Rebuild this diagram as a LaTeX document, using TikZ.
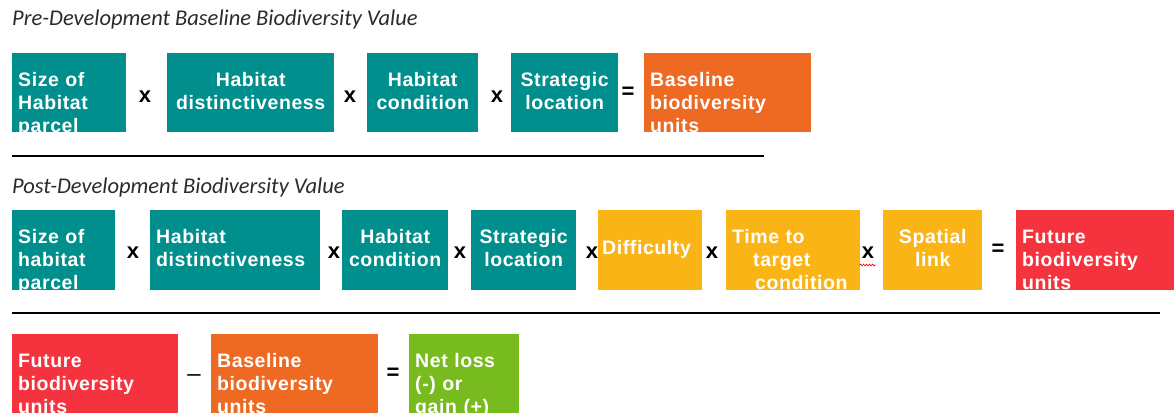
\documentclass[tikz,border=0pt]{standalone}
\usepackage{fontspec}
\usetikzlibrary{decorations.pathmorphing}
\newfontfamily\boxfont{Liberation Sans}[LetterSpace=3]
\newfontfamily\opfont{Liberation Sans}
\newfontfamily\titlefont{Carlito}

\definecolor{bteal}{HTML}{008F8C}
\definecolor{borange}{HTML}{EE6A22}
\definecolor{byellow}{HTML}{FBB415}
\definecolor{bred}{HTML}{F5333F}
\definecolor{bgreen}{HTML}{78BB1E}
\definecolor{titlegray}{HTML}{2B2B2B}

\tikzset{
  box/.style={anchor=north west, inner xsep=6pt, inner ysep=0pt, text=white,
    font=\boxfont\bfseries\fontsize{19.5}{23}\selectfont,
    text height=33pt, text depth=46pt, align=left},
  op/.style={font=\opfont\bfseries\fontsize{22}{24}\selectfont, inner sep=0pt},
  heading/.style={anchor=west, inner sep=0pt, text=titlegray,
    font=\titlefont\itshape\fontsize{22.5}{26}\selectfont},
  rule/.style={line width=2.5pt},
}

\begin{document}
\begin{tikzpicture}[x=1pt,y=-1pt]
	\useasboundingbox (0,0) rectangle (1174,412);

	% pre-development
	\node[heading] (pretitle) at (12,20) {Pre-Development Baseline Biodiversity Value};
	\node[box, fill=bteal, text width=102pt] (presize) at (12,53) {Size of\\Habitat\\parcel};
	\node[op] (pre1) at (145,97) {x};
	\node[box, fill=bteal, text width=155pt, align=center] (predist) at (167,53) {Habitat\\distinctiveness};
	\node[op] (pre2) at (350,97) {x};
	\node[box, fill=bteal, text width=99pt, align=center] (precond) at (367,53) {Habitat\\condition};
	\node[op] (pre3) at (497,97) {x};
	\node[box, fill=bteal, text width=95pt, align=center] (preloc) at (511,53) {Strategic\\location};
	\node[op] (pre4) at (628,93) {=};
	\node[box, fill=borange, text width=155pt] (preunits) at (644,53) {Baseline\\biodiversity\\units};
	\draw[rule] (12,156) -- (764,156);

	% post-development
	\node[heading] (posttitle) at (12,187) {Post-Development Biodiversity Value};
	\node[box, fill=bteal, text width=91pt, text depth=47pt] (postsize) at (12,210) {Size of\\habitat\\parcel};
	\node[op] (post1) at (133,253) {x};
	\node[box, fill=bteal, text width=158pt, text depth=47pt] (postdist) at (150,210) {Habitat\\distinctiveness};
	\node[op] (post2) at (334,253) {x};
	\node[box, fill=bteal, text width=94pt, text depth=47pt, align=center] (postcond) at (342,210) {Habitat\\condition};
	\node[op] (post3) at (460,253) {x};
	\node[box, fill=bteal, text width=93pt, text depth=47pt, align=center] (postloc) at (471,210) {Strategic\\location};
	\node[op] (post4) at (592,253) {x};
	\node[box, fill=byellow, inner xsep=4pt, text width=96pt, text height=44pt, text depth=36pt] (postdiff) at (598,210) {Difficulty};
	\node[op] (post5) at (712,253) {x};
	\node[box, fill=byellow, text width=122pt, text depth=47pt] (posttime) at (726,210) {Time to\\\hspace*{21pt}target\\\hspace*{23pt}condition};
	\node[op] (post6) at (868,253) {x};
	\draw[red, line width=0.7pt, decorate, decoration={snake, amplitude=0.9pt, segment length=3pt}] (post6.south west) ++(-2,6) -- ++(16,0);
	\node[box, fill=byellow, text width=87pt, text depth=47pt, align=center] (postlink) at (883,210) {Spatial\\link};
	\node[op] (post7) at (998,250) {=};
	\node[box, fill=bred, text width=158pt, text depth=47pt] (postunits) at (1016,210) {Future\\biodiversity\\units};
	\draw[rule] (12,313) -- (1160,313);

	% net change
	\node[box, fill=bred, text width=154pt, text depth=80pt] (netfuture) at (12,334) {Future\\biodiversity\\units};
	\node[op, font=\opfont\fontsize{24}{24}\selectfont] (net1) at (194,378) {\textendash};
	\node[box, fill=borange, text width=155pt, text depth=80pt] (netbase) at (211,334) {Baseline\\biodiversity\\units};
	\node[op] (net2) at (393,374) {=};
	\node[box, fill=bgreen, text width=98pt, text depth=80pt] (netgain) at (409,334) {Net loss\\(-) or\\gain (+)};

\end{tikzpicture}
\end{document}
